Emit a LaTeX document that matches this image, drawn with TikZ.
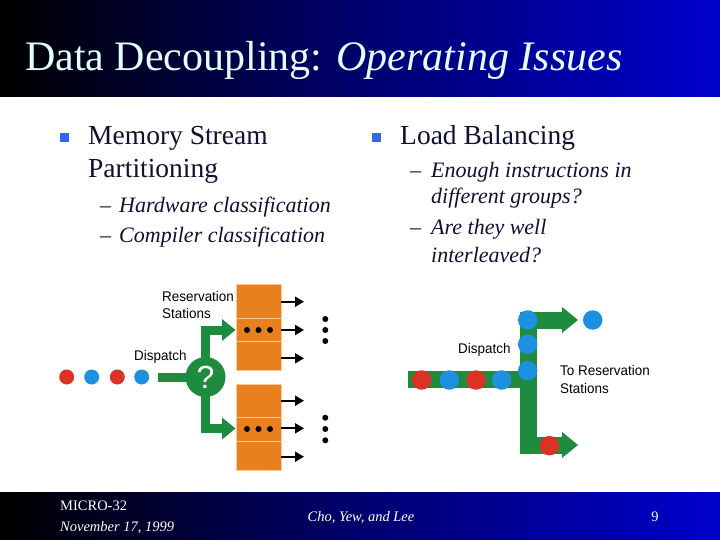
\documentclass[tikz,border=0pt]{standalone}
\usepackage{fontspec}
\setmainfont{Liberation Serif}
\newfontfamily\arialf{Liberation Sans}
\usetikzlibrary{arrows.meta}
\definecolor{titleblue}{RGB}{0,0,204}
\definecolor{titletxt}{RGB}{225,255,255}
\definecolor{bodytxt}{RGB}{16,16,50}
\definecolor{bulletblue}{RGB}{52,102,238}
\definecolor{rsorange}{RGB}{232,128,30}
\definecolor{rsline}{RGB}{248,200,150}
\definecolor{dgreen}{RGB}{30,139,62}
\definecolor{dred}{RGB}{218,50,36}
\definecolor{dblue}{RGB}{30,144,224}
\tikzset{
  bodytext/.style={anchor=base west, text=bodytxt, inner sep=0pt, font=\fontsize{27.5}{30}\selectfont},
  subtext/.style={anchor=base west, text=bodytxt, inner sep=0pt, font=\fontsize{22}{25}\selectfont\itshape},
  dashtext/.style={anchor=base west, text=bodytxt, inner sep=0pt, font=\fontsize{22}{25}\selectfont},
  difflabel/.style={anchor=west, inner sep=0pt, font=\arialf\fontsize{14}{17}\selectfont, text=black, xscale=0.96},
  bluebullet/.style={fill=bulletblue, draw=none},
  rsbox/.style={fill=rsorange, draw=rsline, line width=0.8pt},
  outarrow/.style={draw=black, line width=2pt, -{Triangle[length=9pt,width=10pt]}},
  smalldot/.style={circle, fill=black, inner sep=0pt, minimum size=6pt},
  reddot/.style={circle, fill=dred, inner sep=0pt, minimum size=15pt},
  bluedot/.style={circle, fill=dblue, inner sep=0pt, minimum size=15pt},
  bigred/.style={circle, fill=dred, inner sep=0pt, minimum size=19.5pt},
  bigblue/.style={circle, fill=dblue, inner sep=0pt, minimum size=19.5pt},
  footertext/.style={inner sep=0pt, text=white, font=\fontsize{14.5}{16}\selectfont},
}
\begin{document}
\begin{tikzpicture}[x=1pt,y=-1pt]
\useasboundingbox (0,0) rectangle (720,540);
\fill[white] (0,0) rectangle (720,540);
% title bar
\shade[left color=black, right color=titleblue, middle color={rgb,255:red,0;green,0;blue,110}] (0,0) rectangle (720,97);
\node[anchor=base west, inner sep=0pt, text=titletxt, font=\fontsize{42}{46}\selectfont] (title) at (25,71) {Data Decoupling: \textit{Operating Issues}};
% footer bar
\shade[left color=black, right color=titleblue, middle color={rgb,255:red,0;green,0;blue,110}] (0,492) rectangle (720,540);
\node[footertext, anchor=base west] (f1) at (60,510) {MICRO-32};
\node[footertext, anchor=base west, font=\fontsize{14.5}{16}\selectfont\itshape] (f2) at (60,531) {November 17, 1999};
\node[footertext, anchor=base, font=\fontsize{14.5}{16}\selectfont\itshape] (f3) at (361,521) {Cho, Yew, and Lee};
\node[footertext, anchor=base] (f4) at (655,521) {9};
% left column
\fill[bluebullet] (60,133) rectangle (69,142);
\node[bodytext] (ms1) at (88,145) {Memory Stream};
\node[bodytext] (ms2) at (88,178) {Partitioning};
\node[dashtext] (d1) at (100,212) {–};
\node[subtext] (hw) at (119,212) {Hardware classification};
\node[dashtext] (d2) at (100,243) {–};
\node[subtext] (cc) at (119,243) {Compiler classification};
% right column
\fill[bluebullet] (372,133) rectangle (381,142);
\node[bodytext] (lb) at (400,145) {Load Balancing};
\node[dashtext] (d3) at (410,178) {–};
\node[subtext] (e1) at (431,178) {Enough instructions in};
\node[subtext] (e2) at (431,204) {different groups?};
\node[dashtext] (d4) at (410,235) {–};
\node[subtext] (a1) at (431,235) {Are they well};
\node[subtext] (a2) at (431,262) {interleaved?};
% ---------- left diagram ----------
\node[difflabel] (rsl1) at (162,296) {Reservation};
\node[difflabel] (rsl2) at (162,313) {Stations};
\node[difflabel] (disp1) at (134,357) {Dispatch};
\node[reddot] (l1) at (66.7,377) {};
\node[bluedot] (l2) at (91.7,377) {};
\node[reddot] (l3) at (117.3,377) {};
\node[bluedot] (l4) at (141.7,377) {};
% reservation stations
\draw[rsbox] (236,284) rectangle (281,318.3);
\draw[rsbox] (236,318.3) rectangle (281,341.7);
\draw[rsbox] (236,341.7) rectangle (281,370);
\draw[rsbox] (236,384) rectangle (281,417.7);
\draw[rsbox] (236,417.7) rectangle (281,441);
\draw[rsbox] (236,441) rectangle (281,470);
% green dispatch
\draw[dgreen, line width=9pt] (158,377.5) -- (200,377.5);
\draw[dgreen, line width=9pt, line join=miter] (223,330) -- (205.5,330) -- (205.5,428.5) -- (223,428.5);
\fill[dgreen] (222,319) -- (235.5,330) -- (222,341) -- cycle;
\fill[dgreen] (222,417.5) -- (235.5,428.5) -- (222,439.5) -- cycle;
\node[circle, fill=dgreen, minimum size=40pt, inner sep=0pt, text=white, font=\arialf\fontsize{32}{34}\selectfont] (q) at (205.5,377) {?};
% dots inside boxes
\foreach \x in {247,258.5,270} {
  \node[smalldot] at (\x,330) {};
  \node[smalldot] at (\x,429) {};
}
% output arrows
\foreach \y in {301.7,330,358.3,400.7,428.3,456.7} {
  \draw[outarrow] (281,\y) -- (304,\y);
}
% vertical dots
\foreach \y in {319,330,341,417.7,429,440.3} {
  \node[smalldot] at (325.3,\y) {};
}
% ---------- right diagram ----------
\fill[dgreen] (408,370.5) rectangle (520,387.5);
\fill[dgreen] (519.5,311.5) rectangle (536.5,453.5);
\fill[dgreen] (519.5,311.5) rectangle (562.5,328.5);
\fill[dgreen] (519.5,436.5) rectangle (562.5,453.5);
\fill[dgreen] (562,307) -- (578,320) -- (562,333) -- cycle;
\fill[dgreen] (562,432) -- (578,445) -- (562,458) -- cycle;
\node[bigred] (r1) at (421.7,380) {};
\node[bigblue] (r2) at (449.3,380) {};
\node[bigred] (r3) at (476,380) {};
\node[bigblue] (r4) at (501.7,380) {};
\node[bigblue] (v1) at (527.7,370.7) {};
\node[bigblue] (v2) at (527.7,344.3) {};
\node[bigblue] (v3) at (527.7,320) {};
\node[bigblue] (out1) at (592.7,320) {};
\node[bigred] (out2) at (549.3,445.7) {};
\node[difflabel] (disp2) at (458,350) {Dispatch};
\node[difflabel] (trs1) at (560,370) {To Reservation};
\node[difflabel] (trs2) at (560,388) {Stations};
\end{tikzpicture}
\end{document}
